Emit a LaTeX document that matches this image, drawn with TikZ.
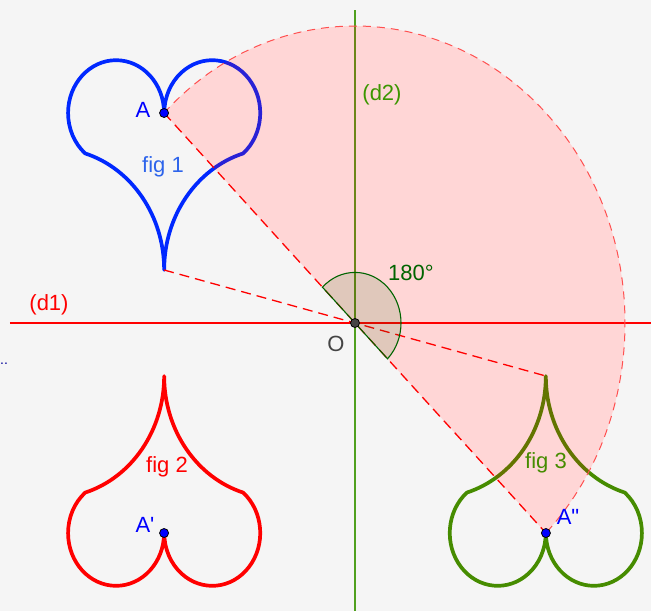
\documentclass[tikz,border=0pt]{standalone}
\usepackage{fontspec}
\setmainfont{Liberation Sans}
\definecolor{bg}{RGB}{245,245,245}
\definecolor{hblue}{RGB}{0,40,255}
\definecolor{lblue}{RGB}{45,100,235}
\definecolor{ptblue}{RGB}{0,0,255}
\definecolor{hred}{RGB}{255,0,0}
\definecolor{hgreen}{RGB}{70,140,0}
\definecolor{lgreen}{RGB}{80,160,30}
\definecolor{tgreen}{RGB}{60,150,0}
\definecolor{dgreen}{RGB}{0,100,0}
\definecolor{ogray}{RGB}{68,68,68}
\definecolor{arcred}{RGB}{255,80,80}
\newcommand\heartpath{(0,0) arc[start angle=0,end angle=230,radius=48]
  arc[start angle=73.4,end angle=0,radius=110.5]
  arc[start angle=180,end angle=106.6,radius=110.5]
  arc[start angle=-50,end angle=180,radius=48] -- cycle}
\tikzset{
  heart/.style={line width=3.7pt,line join=round},
  lab/.style={font=\fontsize{22}{26}\selectfont,inner sep=0pt},
  pt/.style={circle,draw=black,line width=0.8pt,minimum size=9pt,inner sep=0pt},
  dashred/.style={hred,line width=1.3pt,dash pattern=on 10pt off 6pt},
}
\begin{document}
\begin{tikzpicture}[x=1pt,y=1.1pt]
\fill[bg] (-355,-261.82) rectangle (296,293.64);
\useasboundingbox (-355,-261.82) rectangle (296,293.64);
\coordinate (O) at (0,0);
\coordinate (Ap) at (135:270);
\coordinate (App) at (-45:270);
\coordinate (B1) at (-190.92,48.2);
\coordinate (B3) at (190.92,-48.2);
% white base of the half disc
\fill[white] (O) -- (Ap) arc[start angle=135,end angle=-45,radius=270] -- cycle;
% hearts
\begin{scope}[shift={(-190.92,190.92)}]
  \draw[heart,hblue] \heartpath;
\end{scope}
\begin{scope}[shift={(-190.92,-190.92)},yscale=-1]
  \draw[heart,hred] \heartpath;
\end{scope}
\begin{scope}[shift={(190.92,-190.92)},scale=-1]
  \draw[heart,hgreen] \heartpath;
\end{scope}
% axes
\coordinate (d1s) at (-345,0);
\coordinate (d1e) at (296,0);
\coordinate (d2s) at (0,284.5);
\coordinate (d2e) at (0,-261.82);
\draw[hred,line width=1.3pt] (d1s) -- (d1e);
\draw[lgreen,line width=1.3pt] (d2s) -- (d2e);
% pink half disc
\fill[red,fill opacity=0.16] (O) -- (Ap) arc[start angle=135,end angle=-45,radius=270] -- cycle;
\draw[arcred,line width=1pt,dash pattern=on 8pt off 6pt] (Ap) arc[start angle=135,end angle=-45,radius=270];
% dashed segments
\draw[dashred] (Ap) -- (O) -- (App);
\draw[dashred] (B1) -- (O) -- (B3);
% angle
\filldraw[draw=dgreen,fill=dgreen,fill opacity=0.12,line width=1.1pt] (O) -- (135:46) arc[start angle=135,end angle=-45,radius=46] -- cycle;
% points
\node[pt,fill=ptblue] (A) at (Ap) {};
\node[pt,fill=ptblue] (A1) at (-190.92,-190.92) {};
\node[pt,fill=ptblue] (A2) at (App) {};
\node[pt,fill=ogray] (On) at (O) {};
% labels
\node[lab,ptblue] (lA) at (-212,193.6) {A};
\node[lab,ptblue] (lA1) at (-210,-183.6) {A\textquotesingle};
\node[lab,ptblue] (lA2) at (213,-176.4) {A\textquotedbl};
\node[lab,lblue] (f1) at (-192,141.8) {fig 1};
\node[lab,hred] (f2) at (-188,-130.9) {fig 2};
\node[lab,hgreen] (f3) at (191,-127.3) {fig 3};
\node[lab,ogray] (lO) at (-19,-19.1) {O};
\node[lab,dgreen] (ang) at (56,45.5) {180°};
\node[lab,hred] (ld1) at (-306,16.4) {(d1)};
\node[lab,tgreen] (ld2) at (27,207.3) {(d2)};
\node[font=\fontsize{14}{16}\selectfont,text=blue!60!black,inner sep=0pt,anchor=west] (dots) at (-355,-37) {..};
\end{tikzpicture}
\end{document}
